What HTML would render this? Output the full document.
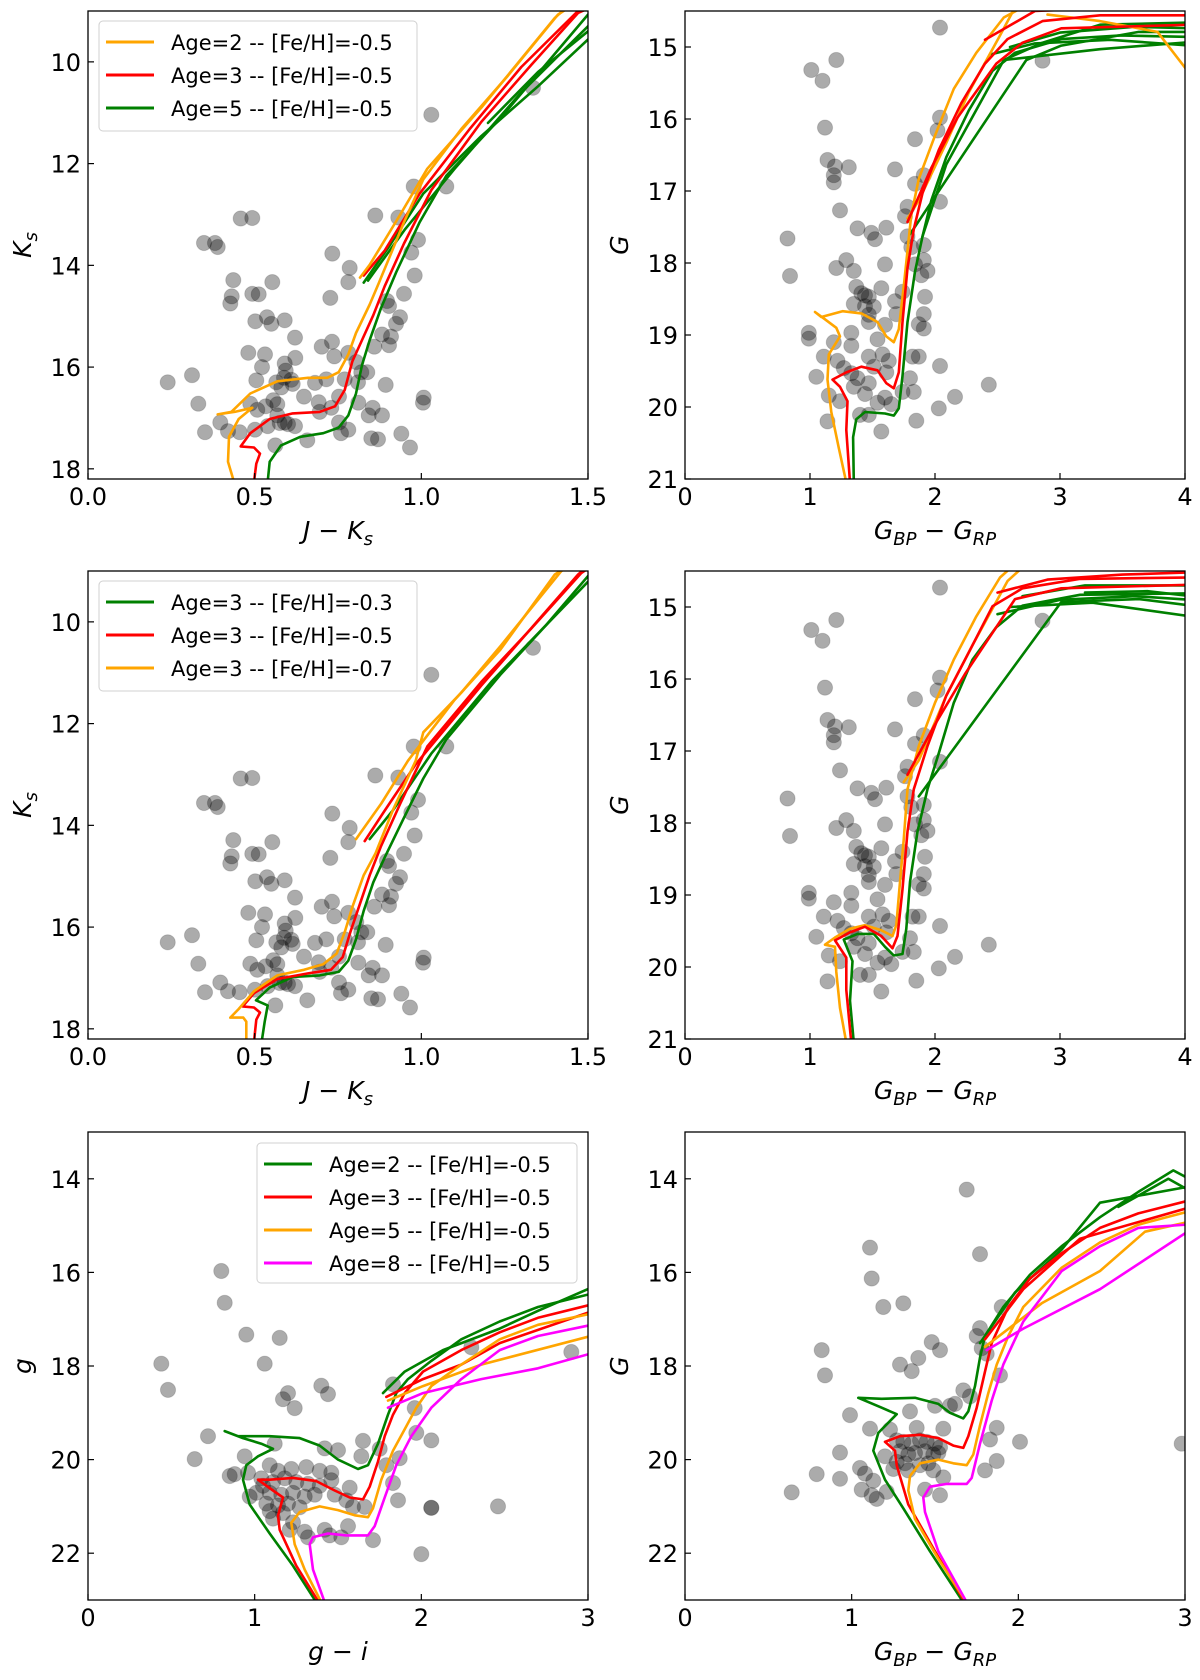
<!DOCTYPE html>
<html><head><meta charset="utf-8">
<style>
html,body{margin:0;padding:0;background:#fff;}
svg{display:block;font-family:"DejaVu Sans","Liberation Sans",sans-serif;}
</style></head>
<body>
<svg id="fig" width="1200" height="1680" viewBox="0 0 1200 1680" xmlns="http://www.w3.org/2000/svg"></svg>
<script>
// ---------- Star data (color, magnitude) ----------
const starsJK = [[0.458,13.08],[0.493,13.07],[0.348,13.56],[0.381,13.56],[0.389,13.64],[0.436,14.29],[0.431,14.61],[0.427,14.75],[0.493,14.56],[0.512,14.57],[0.553,14.33],[0.502,15.10],[0.537,15.02],[0.55,15.15],[0.59,15.08],[0.621,15.42],[0.727,14.64],[0.733,13.77],[0.785,14.05],[0.781,14.33],[0.862,13.02],[0.931,13.06],[1.03,11.04],[1.335,10.51],[1.075,12.45],[0.977,12.45],[0.99,13.5],[0.97,13.75],[0.98,14.2],[0.948,14.56],[0.936,15.02],[0.924,15.15],[0.909,15.4],[0.882,15.36],[0.903,15.57],[0.859,15.6],[0.897,14.7],[0.903,14.8],[0.481,15.72],[0.531,15.75],[0.622,15.82],[0.701,15.6],[0.732,15.5],[0.739,15.79],[0.781,15.72],[0.59,15.93],[0.593,16.07],[0.588,16.21],[0.522,16.0],[0.505,16.26],[0.565,16.3],[0.614,16.33],[0.681,16.31],[0.715,16.24],[0.77,16.24],[0.81,16.3],[0.838,16.1],[0.893,16.35],[0.239,16.3],[0.312,16.16],[0.331,16.72],[0.351,17.28],[0.397,17.09],[0.42,17.26],[0.455,17.28],[0.487,16.72],[0.508,16.84],[0.533,16.77],[0.556,16.65],[0.568,16.73],[0.568,16.95],[0.59,17.09],[0.621,17.16],[0.648,16.58],[0.692,16.69],[0.695,16.88],[0.73,16.8],[0.753,16.58],[0.811,16.7],[0.842,16.95],[0.854,16.8],[0.882,16.95],[0.759,17.3],[0.781,17.23],[0.753,17.09],[0.658,17.44],[0.562,17.54],[0.539,17.16],[0.501,17.23],[0.85,17.4],[0.87,17.42],[0.94,17.31],[0.966,17.58],[1.007,16.6],[1.005,16.7],[0.82,16.1],[0.805,15.9],[0.575,17.1],[0.6,17.12],[0.61,16.25],[0.58,16.4]];
const starsGaiaA = [[2.04,14.73],[1.21,15.18],[1.01,15.32],[1.10,15.47],[2.86,15.19],[1.12,16.12],[1.14,16.57],[1.20,16.66],[1.19,16.78],[1.19,16.88],[1.31,16.67],[1.68,16.70],[1.84,16.28],[2.04,15.98],[2.02,16.16],[1.24,17.27],[1.38,17.52],[1.49,17.58],[1.52,17.67],[1.61,17.51],[2.04,17.15],[1.78,17.22],[1.76,17.35],[1.91,16.78],[1.84,16.9],[1.78,17.63],[1.81,17.78],[1.91,17.75],[0.82,17.66],[0.84,18.18],[1.21,18.07],[1.29,17.96],[1.35,18.11],[1.6,18.02],[1.84,18.02],[1.91,17.96],[1.94,18.11],[1.89,18.17],[1.37,18.33],[1.41,18.42],[1.47,18.47],[1.44,18.6],[1.51,18.61],[1.57,18.35],[1.35,18.57],[1.68,18.53],[1.69,18.71],[1.74,18.4],[1.92,18.47],[1.91,18.71],[1.87,18.85],[1.91,18.91],[1.47,18.82],[1.6,18.86],[0.99,18.97],[0.99,19.05],[1.19,19.1],[1.33,18.97],[1.33,19.15],[1.54,19.06],[1.11,19.3],[1.22,19.36],[1.27,19.46],[1.33,19.53],[1.38,19.6],[1.47,19.3],[1.51,19.44],[1.58,19.27],[1.63,19.36],[1.61,19.52],[1.82,19.3],[1.87,19.3],[1.80,19.6],[1.83,19.79],[1.74,19.79],[1.05,19.58],[1.15,19.84],[1.24,19.92],[1.35,19.72],[1.44,19.82],[1.47,19.67],[1.6,19.87],[1.65,19.96],[1.54,19.94],[2.04,19.43],[2.43,19.69],[2.16,19.86],[2.03,20.02],[1.85,20.19],[1.47,20.11],[1.40,20.11],[1.14,20.2],[1.57,20.34],[1.44,18.45],[1.47,18.72]];
const starsGI = [[0.80,15.97],[0.82,16.65],[0.95,17.33],[1.15,17.4],[1.06,17.95],[0.44,17.95],[0.48,18.51],[1.40,18.42],[1.44,18.6],[1.20,18.58],[1.17,18.71],[1.24,18.9],[0.72,19.5],[0.64,19.99],[1.12,19.66],[0.94,19.93],[0.85,20.35],[0.88,20.31],[1.42,19.76],[1.50,19.8],[1.65,19.6],[1.64,19.93],[1.75,19.77],[1.87,19.97],[1.79,20.12],[1.83,20.5],[1.86,20.87],[1.97,19.43],[2.06,19.59],[2.06,21.03],[2.06,21.03],[2.46,21.0],[2.0,22.02],[1.96,18.9],[1.83,18.39],[1.71,21.72],[1.56,21.42],[1.57,20.6],[1.59,21.01],[1.66,21.01],[1.45,21.62],[1.52,21.66],[1.42,21.5],[1.30,21.54],[1.21,21.5],[1.32,21.66],[1.11,21.26],[1.23,21.34],[1.05,20.56],[0.97,20.79],[1.09,20.12],[1.14,20.24],[1.22,20.2],[1.31,20.16],[1.39,20.24],[1.46,20.28],[1.04,20.4],[1.11,20.48],[1.18,20.4],[1.25,20.48],[1.32,20.52],[1.39,20.56],[1.46,20.44],[1.09,20.71],[1.16,20.75],[1.23,20.71],[1.30,20.79],[1.36,20.75],[1.07,20.94],[1.14,20.98],[1.20,20.94],[1.27,21.02],[1.09,21.1],[1.17,21.14],[0.96,20.28],[1.01,20.71],[1.48,20.75],[1.55,20.87],[2.9,17.7],[2.3,17.6]];
const starsGaiaB = [[1.69,14.23],[1.11,15.47],[1.12,16.13],[1.19,16.74],[1.31,16.66],[1.77,15.61],[0.82,17.66],[0.84,18.2],[1.48,17.49],[1.53,17.66],[1.29,17.97],[1.36,18.11],[1.40,17.83],[1.77,17.19],[1.75,17.36],[1.78,17.62],[1.81,17.74],[1.89,18.2],[1.90,16.74],[1.67,18.52],[1.71,18.65],[1.59,18.85],[1.50,18.85],[1.62,18.81],[1.35,18.97],[0.99,19.05],[1.11,19.34],[1.23,19.36],[1.39,19.32],[1.55,19.34],[1.87,19.32],[1.83,19.57],[2.01,19.62],[2.98,19.66],[1.87,20.03],[1.80,20.23],[0.93,19.85],[0.79,20.31],[0.93,20.41],[0.64,20.7],[1.05,20.18],[1.08,20.3],[1.13,20.45],[1.06,20.64],[1.12,20.76],[1.15,20.84],[1.21,20.69],[1.44,20.64],[1.53,20.76],[1.55,20.38],[1.49,20.23],[1.27,19.59],[1.31,19.62],[1.36,19.66],[1.41,19.59],[1.45,19.62],[1.50,19.66],[1.53,19.74],[1.29,19.82],[1.34,19.89],[1.38,19.86],[1.44,19.82],[1.49,19.89],[1.52,19.86],[1.27,20.05],[1.32,20.08],[1.41,20.12],[1.46,20.08],[1.34,20.23],[1.20,19.93],[1.25,20.2]];

// ---------- Isochrones: panel 1 (J-Ks vs Ks) ----------
const p1Age2Main = [[0.435,18.19],[0.42,17.86],[0.423,17.37],[0.452,17.02],[0.493,16.8],[0.44,16.88],[0.389,16.93],[0.43,16.88],[0.487,16.52],[0.568,16.28],[0.66,16.21],[0.718,16.21],[0.752,16.1],[0.781,15.75],[0.804,15.33],[0.845,14.77],[0.873,14.34],[0.948,13.15],[1.006,12.31],[1.12,11.32],[1.26,10.27],[1.41,9.07],[1.45,8.9]];
const p1Age2Clump = [[0.816,14.24],[0.845,13.99],[0.937,13.0],[1.018,12.1],[1.18,10.9],[1.40,9.14],[1.44,8.9]];
const p1Age3Main = [[0.498,18.25],[0.505,17.9],[0.516,17.7],[0.498,17.58],[0.458,17.56],[0.487,17.3],[0.545,17.02],[0.614,16.91],[0.695,16.88],[0.741,16.77],[0.77,16.45],[0.793,15.89],[0.822,15.47],[0.856,14.98],[0.89,14.41],[0.948,13.57],[1.03,12.52],[1.18,11.18],[1.33,10.06],[1.47,9.04],[1.5,8.95]];
const p1Age3Clump = [[0.827,14.2],[0.89,13.71],[0.995,12.59],[1.145,11.32],[1.3,10.1],[1.47,9.0]];
const p1Age5Main = [[0.539,18.25],[0.545,17.86],[0.579,17.54],[0.637,17.37],[0.706,17.3],[0.752,17.19],[0.781,16.95],[0.804,16.52],[0.822,15.96],[0.845,15.47],[0.879,14.84],[0.925,14.13],[0.995,13.15],[1.075,12.24],[1.237,11.11],[1.5,9.07]];
const p1Age5Clump = [[0.827,14.34],[0.902,13.64],[1.006,12.59],[1.18,11.46],[1.35,10.48],[1.5,9.56]];
const p1Age5Clump2 = [[0.84,14.3],[0.95,13.3],[1.1,12.1],[1.3,10.6],[1.5,9.3]];
const p1Age5Clump3 = [[1.2,11.2],[1.35,10.2],[1.5,9.4]];

// ---------- Isochrones: panel 2 (BP-RP vs G) ----------
const p2Age2Main = [[1.29,21.05],[1.23,20.57],[1.17,20.07],[1.14,19.62],[1.15,19.27],[1.24,19.02],[1.21,18.9],[1.11,18.77],[1.04,18.68],[1.09,18.75],[1.26,18.67],[1.41,18.7],[1.54,18.82],[1.61,19.02],[1.67,19.1],[1.71,18.92],[1.75,18.32],[1.78,17.83],[1.81,17.33],[1.87,16.83],[2.0,16.23],[2.15,15.58],[2.33,15.08],[2.55,14.59],[2.7,14.45]];
const p2Age2Clump = [[1.78,17.38],[1.87,17.13],[2.09,16.33],[2.27,15.63],[2.52,14.84],[2.64,14.45]];
const p2Age2Agb = [[2.9,14.55],[3.32,14.64],[3.78,14.79],[4.05,15.4]];
const p2Age3Main = [[1.32,21.05],[1.29,20.32],[1.30,19.92],[1.24,19.72],[1.18,19.62],[1.29,19.52],[1.41,19.44],[1.54,19.49],[1.61,19.67],[1.67,19.74],[1.71,19.52],[1.74,18.82],[1.78,18.07],[1.83,17.53],[1.90,17.03],[2.03,16.43],[2.21,15.78],[2.40,15.23],[2.58,14.89],[2.86,14.64],[3.32,14.56],[4.05,14.56]];
const p2Age3Clump = [[1.78,17.43],[1.97,16.68],[2.18,15.98],[2.49,15.23],[2.70,14.94],[3.01,14.74],[4.05,14.69]];
const p2Age3Agb = [[2.4,14.9],[2.8,14.5],[3.5,14.45],[4.05,14.48]];
const p2Age5Main = [[1.35,21.05],[1.345,20.42],[1.37,20.17],[1.44,20.07],[1.60,20.09],[1.67,20.12],[1.71,20.02],[1.74,19.57],[1.78,18.82],[1.84,18.12],[1.90,17.63],[1.97,17.13],[2.09,16.53],[2.27,15.88],[2.46,15.33],[2.64,15.08],[3.01,14.89],[3.47,14.84],[4.05,14.86]];
const p2Age5Clump = [[1.8,17.6],[2.73,15.18],[3.01,14.98],[3.63,14.79],[4.05,14.79]];
const p2Age5Clump2 = [[1.9,17.63],[2.09,16.63],[2.55,15.18],[2.86,14.94],[3.32,14.69],[4.05,14.66]];
const p2Age5Clump3 = [[2.55,15.18],[3.32,15.03],[4.05,14.93]];
const p2Age5Agb = [[2.45,15.1],[2.8,14.95],[3.4,14.9],[4.05,14.98]];
const p2Age5Agb2 = [[2.6,15.0],[3.0,14.8],[3.6,14.72],[4.05,14.74]];

// ---------- Isochrones: panel 3 (metallicity, J-Ks) ----------
const p3FeM03Main = [[0.521,18.25],[0.53,17.86],[0.539,17.54],[0.504,17.44],[0.545,17.19],[0.614,16.98],[0.695,16.95],[0.752,16.88],[0.781,16.66],[0.804,16.24],[0.827,15.68],[0.856,15.12],[0.89,14.63],[0.948,13.85],[1.006,13.08],[1.075,12.31],[1.237,11.04],[1.375,10.06],[1.5,9.1]];
const p3FeM03Clump = [[0.845,14.27],[0.914,13.71],[1.03,12.59],[1.21,11.18],[1.5,9.21]];
const p3FeM05Main = [[0.498,18.25],[0.505,17.82],[0.516,17.68],[0.498,17.58],[0.464,17.56],[0.498,17.3],[0.568,17.02],[0.66,16.91],[0.729,16.84],[0.764,16.59],[0.787,16.1],[0.816,15.54],[0.845,14.98],[0.879,14.41],[0.937,13.57],[1.018,12.45],[1.18,11.18],[1.33,10.13],[1.48,9.04],[1.5,8.95]];
const p3FeM05Clump = [[0.83,14.31],[0.89,13.71],[0.983,12.8],[1.18,11.25],[1.47,9.07],[1.5,8.9]];
const p3FeM07Main = [[0.475,18.25],[0.475,17.86],[0.466,17.78],[0.427,17.78],[0.452,17.61],[0.498,17.26],[0.568,16.95],[0.648,16.84],[0.706,16.73],[0.746,16.52],[0.77,16.1],[0.793,15.61],[0.827,14.98],[0.862,14.56],[0.914,13.71],[0.983,12.73],[1.006,12.17],[1.12,11.39],[1.237,10.48],[1.42,9.0],[1.45,8.9]];
const p3FeM07Clump = [[0.804,14.27],[0.88,13.57],[0.96,12.73],[1.10,11.53],[1.237,10.55],[1.40,9.07],[1.44,8.9]];

// ---------- Isochrones: panel 4 (metallicity, BP-RP) ----------
const p4FeM03Main = [[1.35,21.05],[1.32,20.47],[1.34,19.92],[1.27,19.62],[1.38,19.54],[1.51,19.54],[1.60,19.72],[1.67,19.84],[1.74,19.82],[1.77,19.47],[1.80,18.82],[1.86,18.12],[1.94,17.53],[2.03,17.03],[2.15,16.33],[2.30,15.73],[2.49,15.28],[2.70,14.98],[3.16,14.83],[4.05,14.81]];
const p4FeM03Clump = [[1.87,17.63],[3.01,14.93],[3.63,14.89],[4.05,14.98]];
const p4FeM03Agb = [[2.6,15.0],[3.26,14.94],[4.05,15.13]];
const p4FeM03Agb2 = [[2.7,14.85],[3.2,14.7],[4.05,14.7]];
const p4FeM03Agb3 = [[2.5,15.1],[3.0,14.9],[3.6,14.85],[4.05,14.9]];
const p4FeM03Agb4 = [[3.2,14.8],[3.7,14.78],[4.05,14.85]];
const p4FeM05Main = [[1.33,21.05],[1.29,20.32],[1.29,19.87],[1.20,19.63],[1.32,19.52],[1.44,19.44],[1.57,19.57],[1.66,19.74],[1.70,19.57],[1.74,18.92],[1.78,18.12],[1.83,17.53],[1.94,16.93],[2.09,16.23],[2.27,15.63],[2.46,14.99],[2.70,14.74],[3.16,14.61],[4.05,14.59]];
const p4FeM05Clump = [[1.78,17.33],[2.0,16.63],[2.24,15.93],[2.64,14.89],[3.01,14.74],[4.05,14.69]];
const p4FeM05Agb = [[2.5,14.8],[2.9,14.62],[3.5,14.55],[4.05,14.52]];
const p4FeM07Main = [[1.29,21.05],[1.24,20.57],[1.21,20.07],[1.20,19.72],[1.12,19.69],[1.20,19.59],[1.32,19.47],[1.44,19.42],[1.57,19.49],[1.66,19.57],[1.69,19.42],[1.72,18.82],[1.75,18.22],[1.78,17.53],[1.87,16.93],[2.0,16.33],[2.15,15.73],[2.33,15.13],[2.52,14.59],[2.61,14.45]];
const p4FeM07Clump = [[1.75,17.43],[1.87,17.13],[2.09,16.23],[2.30,15.53],[2.58,14.64],[2.70,14.45]];

// ---------- Isochrones: panel 5 (g-i vs g) ----------
const p5Age2Main = [[1.37,23.05],[1.23,22.27],[1.09,21.58],[0.97,20.96],[0.93,20.43],[0.95,20.12],[1.02,19.93],[1.11,19.77],[1.04,19.66],[0.93,19.54],[0.82,19.39],[0.90,19.5],[1.09,19.5],[1.27,19.54],[1.39,19.7],[1.50,20.0],[1.62,20.2],[1.68,20.12],[1.74,19.66],[1.80,19.04],[1.85,18.58],[1.92,18.28],[2.06,17.89],[2.24,17.43],[2.47,17.05],[2.70,16.74],[3.05,16.43]];
const p5Age2Clump = [[1.77,18.58],[1.90,18.12],[2.13,17.66],[2.47,17.2],[2.70,16.82],[3.05,16.28]];
const p5Age3Main = [[1.385,23.05],[1.25,22.27],[1.15,21.5],[1.14,21.2],[1.17,20.81],[1.11,20.66],[1.02,20.43],[1.09,20.43],[1.23,20.39],[1.37,20.46],[1.48,20.66],[1.57,20.81],[1.65,20.85],[1.69,20.58],[1.74,20.04],[1.78,19.5],[1.83,19.04],[1.90,18.58],[2.01,18.12],[2.24,17.66],[2.47,17.28],[2.70,16.97],[3.05,16.66]];
const p5Age3Clump = [[1.79,18.66],[2.01,18.28],[2.24,17.97],[2.47,17.51],[3.05,16.8]];
const p5Age5Main = [[1.40,23.05],[1.30,22.35],[1.24,21.81],[1.22,21.35],[1.27,21.12],[1.39,21.0],[1.50,21.08],[1.60,21.19],[1.68,21.23],[1.71,21.04],[1.76,20.43],[1.83,19.81],[1.90,19.35],[1.97,18.89],[2.06,18.43],[2.24,17.97],[2.47,17.43],[2.70,17.12],[3.05,16.86]];
const p5Age5Clump = [[1.80,18.74],[2.01,18.43],[2.36,17.97],[3.05,17.33]];
const p5Age8Main = [[1.42,23.05],[1.35,22.35],[1.33,21.81],[1.35,21.66],[1.44,21.58],[1.55,21.62],[1.68,21.62],[1.72,21.42],[1.78,20.81],[1.85,20.12],[1.94,19.5],[2.06,18.89],[2.24,18.28],[2.47,17.66],[2.70,17.36],[3.05,17.1]];
const p5Age8Clump = [[1.80,18.89],[2.01,18.58],[2.36,18.28],[2.70,18.05],[3.05,17.7]];

// ---------- Isochrones: panel 6 (BP-RP vs G) ----------
const p6Age2Main = [[1.67,23.05],[1.47,21.96],[1.31,21.04],[1.20,20.43],[1.13,19.81],[1.16,19.43],[1.27,19.03],[1.18,18.89],[1.04,18.68],[1.18,18.7],[1.38,18.68],[1.52,18.81],[1.59,19.0],[1.67,19.12],[1.70,18.97],[1.74,18.43],[1.77,17.82],[1.80,17.36],[1.91,16.74],[2.07,16.05],[2.26,15.44],[2.49,14.82],[2.72,14.28],[2.93,13.82],[3.05,14.05]];
const p6Age2Clump = [[1.77,17.51],[1.98,16.43],[2.26,15.51],[2.49,14.51],[3.05,14.15]];
const p6Age2Agb = [[2.6,14.6],[2.9,14.0],[3.05,14.3]];
const p6Age3Main = [[1.68,23.05],[1.50,21.96],[1.34,20.96],[1.27,20.12],[1.26,19.81],[1.20,19.62],[1.29,19.5],[1.41,19.47],[1.52,19.54],[1.61,19.7],[1.67,19.75],[1.70,19.5],[1.75,18.89],[1.80,18.12],[1.84,17.51],[1.94,16.74],[2.07,16.13],[2.26,15.59],[2.49,15.05],[2.72,14.74],[3.05,14.44]];
const p6Age3Clump = [[1.80,17.43],[2.03,16.36],[2.37,15.28],[3.05,14.59]];
const p6Age5Main = [[1.69,23.05],[1.52,22.12],[1.38,21.27],[1.34,20.66],[1.35,20.35],[1.41,20.08],[1.52,20.0],[1.61,20.08],[1.69,20.12],[1.73,19.89],[1.77,19.27],[1.82,18.58],[1.87,17.97],[1.94,17.36],[2.03,16.74],[2.26,15.9],[2.49,15.36],[2.72,14.98],[3.05,14.67]];
const p6Age5Clump = [[1.80,17.59],[2.14,16.66],[2.49,15.97],[2.76,15.13],[3.05,14.9]];
const p6Age8Main = [[1.69,23.05],[1.52,21.96],[1.44,21.12],[1.43,20.81],[1.47,20.58],[1.57,20.52],[1.69,20.52],[1.72,20.39],[1.77,19.66],[1.84,18.74],[1.91,17.97],[2.03,17.05],[2.26,15.97],[2.49,15.44],[2.72,15.05],[3.05,14.97]];
const p6Age8Clump = [[1.81,17.66],[2.03,17.2],[2.49,16.36],[3.05,15.05]];

// ---------- Axis ticks ----------
const ticksJK = [0.0, 0.5, 1.0, 1.5];
const tickLabelsJK = ["0.0","0.5","1.0","1.5"];
const ticksKs = [10, 12, 14, 16, 18];
const ticksBpRp4 = [0, 1, 2, 3, 4];
const ticksG6 = [15, 16, 17, 18, 19, 20, 21];
const ticks3 = [0, 1, 2, 3];
const ticksMag5 = [14, 16, 18, 20, 22];

const GREEN = "#008000", RED = "#ff0000", ORANGE = "#ffa500", MAGENTA = "#ff00ff";
const NS = "http://www.w3.org/2000/svg";
const svg = document.getElementById("fig");

function mk(tag, attrs, parent) {
  const e = document.createElementNS(NS, tag);
  for (const k in attrs) e.setAttribute(k, attrs[k]);
  (parent || svg).appendChild(e);
  return e;
}

const panels = [
  {id:"p1", x0:88, y0:11, xr:[0,1.5], yr:[9.0,18.2], xt:ticksJK, xtl:tickLabelsJK, yt:ticksKs,
   stars:starsJK, xlab:"jk", ylab:"Ks",
   lines:[[p1Age5Main,GREEN],[p1Age5Clump,GREEN],[p1Age5Clump2,GREEN],[p1Age5Clump3,GREEN],[p1Age3Main,RED],[p1Age3Clump,RED],[p1Age2Main,ORANGE],[p1Age2Clump,ORANGE]],
   legend:{x:99,y:21,w:318,h:110,items:[["Age=2 -- [Fe/H]=-0.5",ORANGE],["Age=3 -- [Fe/H]=-0.5",RED],["Age=5 -- [Fe/H]=-0.5",GREEN]]}},
  {id:"p2", x0:685, y0:11, xr:[0,4], yr:[14.5,21], xt:ticksBpRp4, yt:ticksG6,
   stars:starsGaiaA, xlab:"bprp", ylab:"G",
   lines:[[p2Age5Main,GREEN],[p2Age5Clump,GREEN],[p2Age5Clump2,GREEN],[p2Age5Clump3,GREEN],[p2Age5Agb,GREEN],[p2Age5Agb2,GREEN],[p2Age2Main,ORANGE],[p2Age2Clump,ORANGE],[p2Age2Agb,ORANGE],[p2Age3Main,RED],[p2Age3Clump,RED],[p2Age3Agb,RED]]},
  {id:"p3", x0:88, y0:571, xr:[0,1.5], yr:[9.0,18.2], xt:ticksJK, xtl:tickLabelsJK, yt:ticksKs,
   stars:starsJK, xlab:"jk", ylab:"Ks",
   lines:[[p3FeM03Main,GREEN],[p3FeM03Clump,GREEN],[p3FeM05Main,RED],[p3FeM05Clump,RED],[p3FeM07Main,ORANGE],[p3FeM07Clump,ORANGE]],
   legend:{x:99,y:581,w:318,h:110,items:[["Age=3 -- [Fe/H]=-0.3",GREEN],["Age=3 -- [Fe/H]=-0.5",RED],["Age=3 -- [Fe/H]=-0.7",ORANGE]]}},
  {id:"p4", x0:685, y0:571, xr:[0,4], yr:[14.5,21], xt:ticksBpRp4, yt:ticksG6,
   stars:starsGaiaA, xlab:"bprp", ylab:"G",
   lines:[[p4FeM03Main,GREEN],[p4FeM03Clump,GREEN],[p4FeM03Agb,GREEN],[p4FeM03Agb2,GREEN],[p4FeM03Agb3,GREEN],[p4FeM03Agb4,GREEN],[p4FeM07Main,ORANGE],[p4FeM07Clump,ORANGE],[p4FeM05Main,RED],[p4FeM05Clump,RED],[p4FeM05Agb,RED]]},
  {id:"p5", x0:88, y0:1132, xr:[0,3], yr:[13,23], xt:ticks3, yt:ticksMag5,
   stars:starsGI, xlab:"gi", ylab:"g",
   lines:[[p5Age2Main,GREEN],[p5Age2Clump,GREEN],[p5Age3Main,RED],[p5Age3Clump,RED],[p5Age5Main,ORANGE],[p5Age5Clump,ORANGE],[p5Age8Main,MAGENTA],[p5Age8Clump,MAGENTA]],
   legend:{x:257,y:1143,w:320,h:140,items:[["Age=2 -- [Fe/H]=-0.5",GREEN],["Age=3 -- [Fe/H]=-0.5",RED],["Age=5 -- [Fe/H]=-0.5",ORANGE],["Age=8 -- [Fe/H]=-0.5",MAGENTA]]}},
  {id:"p6", x0:685, y0:1132, xr:[0,3], yr:[13,23], xt:ticks3, yt:ticksMag5,
   stars:starsGaiaB, xlab:"bprp", ylab:"G",
   lines:[[p6Age2Main,GREEN],[p6Age2Clump,GREEN],[p6Age2Agb,GREEN],[p6Age3Main,RED],[p6Age3Clump,RED],[p6Age5Main,ORANGE],[p6Age5Clump,ORANGE],[p6Age8Main,MAGENTA],[p6Age8Clump,MAGENTA]]}
];

const W = 500, H = 468;

panels.forEach(p => {
  const g = mk("g", {});
  
  
  const sx = v => p.x0 + (v - p.xr[0]) / (p.xr[1] - p.xr[0]) * W;
  const sy = v => p.y0 + (v - p.yr[0]) / (p.yr[1] - p.yr[0]) * H;

  const defs = mk("defs", {}, g);
  const cp = mk("clipPath", {id: "clip-" + p.id}, defs);
  mk("rect", {x:p.x0, y:p.y0, width:W, height:H}, cp);

  const plot = mk("g", {"clip-path": "url(#clip-" + p.id + ")"}, g);
  
  

  const sg = mk("g", {}, plot);
  
  
  p.stars.forEach(s => {
    const c = mk("circle", {cx:sx(s[0]).toFixed(1), cy:sy(s[1]).toFixed(1), r:7.6, fill:"rgba(0,0,0,0.33)", stroke:"rgba(0,0,0,0.14)", "stroke-width":1}, sg);
    
    
  });

  p.lines.forEach(l => {
    const pts = l[0].map(q => sx(q[0]).toFixed(1) + "," + sy(q[1]).toFixed(1)).join(" ");
    const pl = mk("polyline", {points:pts, fill:"none", stroke:l[1], "stroke-width":2.6, "stroke-linejoin":"round", "stroke-linecap":"round"}, plot);
    
    
  });

  const fr = mk("rect", {x:p.x0, y:p.y0, width:W, height:H, fill:"none", stroke:"#000", "stroke-width":1.3}, g);
  
  

  p.xt.forEach((t, i) => {
    const x = sx(t);
    const tk = mk("line", {x1:x, x2:x, y1:p.y0+H, y2:p.y0+H-6, stroke:"#000", "stroke-width":1.2}, g);
    
    
    const tx = mk("text", {x:x, y:p.y0+H+26, "text-anchor":"middle", "font-size":24, fill:"#000"}, g);
    tx.textContent = p.xtl ? p.xtl[i] : String(t);
    
    
  });
  p.yt.forEach(t => {
    const y = sy(t);
    const tk = mk("line", {x1:p.x0, x2:p.x0+6, y1:y, y2:y, stroke:"#000", "stroke-width":1.2}, g);
    
    
    const tx = mk("text", {x:p.x0-7, y:y+9, "text-anchor":"end", "font-size":24, fill:"#000"}, g);
    tx.textContent = String(t);
    
    
  });

  const xc = p.x0 + W/2, xy = p.y0 + H + 60;
  const xl = mk("text", {x:xc, y:xy, "text-anchor":"middle", "font-size":25, "font-style":"italic", fill:"#000"}, g);
  
  
  if (p.xlab === "jk") {
    xl.innerHTML = 'J − K<tspan font-size="18" dy="6">s</tspan>';
  } else if (p.xlab === "gi") {
    xl.textContent = "g − i";
  } else {
    xl.innerHTML = 'G<tspan font-size="18" dy="6">BP</tspan><tspan dy="-6"> − G</tspan><tspan font-size="18" dy="6">RP</tspan>';
  }
  const yx = p.x0 - 57, yy = p.y0 + H/2;
  const yl = mk("text", {x:0, y:0, "text-anchor":"middle", "font-size":25, "font-style":"italic", fill:"#000", transform:"translate(" + yx + "," + yy + ") rotate(-90)"}, g);
  
  
  if (p.ylab === "Ks") yl.innerHTML = 'K<tspan font-size="18" dy="6">s</tspan>';
  else yl.textContent = p.ylab;

  if (p.legend) {
    const L = p.legend;
    const lg = mk("g", {}, g);
    
    
    mk("rect", {x:L.x, y:L.y, width:L.w, height:L.h, rx:4, fill:"rgba(255,255,255,0.85)", stroke:"#d0d0d0", "stroke-width":1}, lg);
    L.items.forEach((it, i) => {
      const cy = L.y + 21 + i * 33;
      const le = mk("g", {}, lg);
      
      
      mk("line", {x1:L.x+7, x2:L.x+55, y1:cy, y2:cy, stroke:it[1], "stroke-width":3}, le);
      const t = mk("text", {x:L.x+72, y:cy+8, "font-size":21, fill:"#000"}, le);
      t.textContent = it[0];
    });
  }
});
</script>
</body></html>
